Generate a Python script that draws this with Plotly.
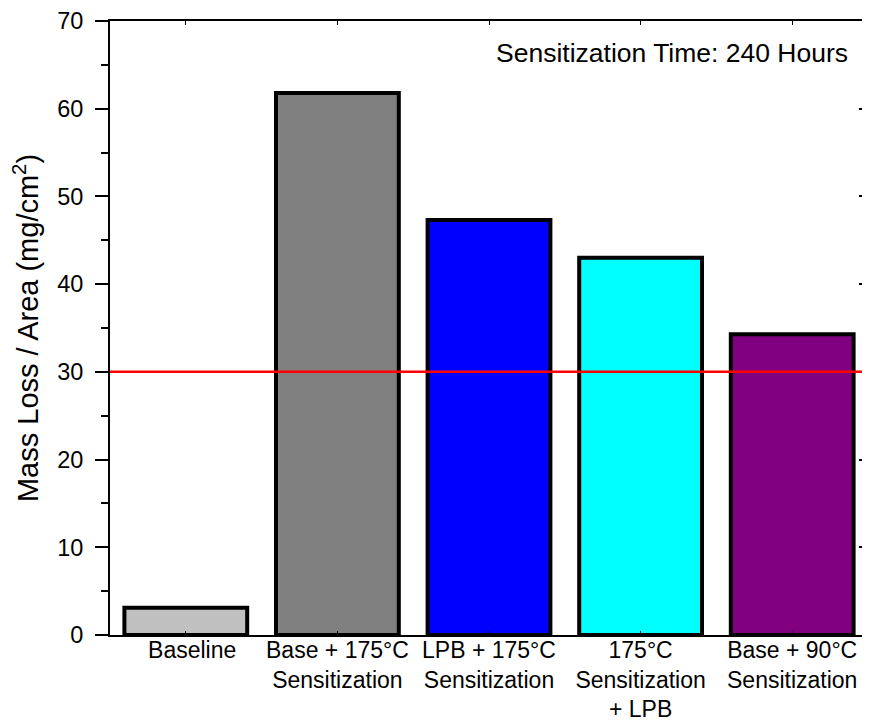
import plotly.graph_objects as go

categories = ["\u00a0\u00a0Baseline", "Base + 175°C<br>Sensitization", "LPB + 175°C<br>Sensitization",
              "175°C<br>Sensitization<br>+ LPB", "Base + 90°C<br>Sensitization"]
mass_loss = [3.1, 61.8, 47.3, 43.0, 34.3]
bar_colors = ["#C0C0C0", "#808080", "#0000FF", "#00FFFF", "#800080"]
threshold = 30
y_ticks = [0, 10, 20, 30, 40, 50, 60, 70]
note = "Sensitization Time: 240 Hours"

FONT = "Liberation Sans, Arial, sans-serif"

fig = go.Figure()
fig.add_trace(go.Bar(
    x=categories, y=mass_loss,
    marker=dict(color=bar_colors, line=dict(color="black", width=4)),
    showlegend=False,
))
# invisible trace to activate right axis
fig.add_trace(go.Scatter(x=[categories[0]], y=[0], yaxis="y2", mode="markers",
                         marker=dict(opacity=0), showlegend=False, hoverinfo="skip"))

fig.add_shape(type="line", xref="paper", x0=0, x1=1, yref="y", y0=threshold, y1=threshold,
              line=dict(color="#FF0000", width=2.5), layer="above")

fig.add_annotation(text=note, xref="paper", yref="paper", x=0.976, y=0.948,
                   xanchor="right", yanchor="middle", showarrow=False,
                   font=dict(family=FONT, size=26.5, color="black"))

# page body has an 8px margin; figure size/margins compensate so the plot lands
# where the reference has it in the 870x723 window
fig.update_layout(
    width=862, height=715,
    margin=dict(l=102, r=2, t=13, b=88, autoexpand=False),
    paper_bgcolor="white", plot_bgcolor="white",
    bargap=0.19,
    font=dict(family=FONT, color="black"),
    xaxis=dict(
        type="category", range=[-0.5, 4.5], automargin=False,
        showline=True, linecolor="black", linewidth=2, mirror="ticks",
        ticks="inside", ticklen=4, tickcolor="black",
        tickfont=dict(family=FONT, size=23, color="black"),
        ticklabelstandoff=-7,
        showgrid=False, zeroline=False,
    ),
    yaxis=dict(
        range=[0, 70], tickvals=y_ticks, automargin=False,
        showline=True, linecolor="black", linewidth=2,
        ticks="outside", ticklen=13, tickwidth=2, tickcolor="black",
        minor=dict(dtick=5, ticks="outside", ticklen=7, tickwidth=2, tickcolor="black"),
        tickfont=dict(family=FONT, size=23.5, color="black"),
        ticklabelstandoff=7,
        title=dict(text="Mass Loss / Area (mg/cm<sup>2</sup>)", standoff=16,
                   font=dict(family=FONT, size=29, color="black")),
        showgrid=False, zeroline=False,
    ),
    yaxis2=dict(
        range=[0, 70], tickvals=y_ticks, overlaying="y", side="right", automargin=False,
        showline=True, linecolor="black", linewidth=2,
        ticks="inside", ticklen=9, tickwidth=2, tickcolor="black",
        minor=dict(dtick=5, ticks="inside", ticklen=5, tickwidth=2, tickcolor="black"),
        showticklabels=False, showgrid=False, zeroline=False,
    ),
)

fig.write_html("out.html")
